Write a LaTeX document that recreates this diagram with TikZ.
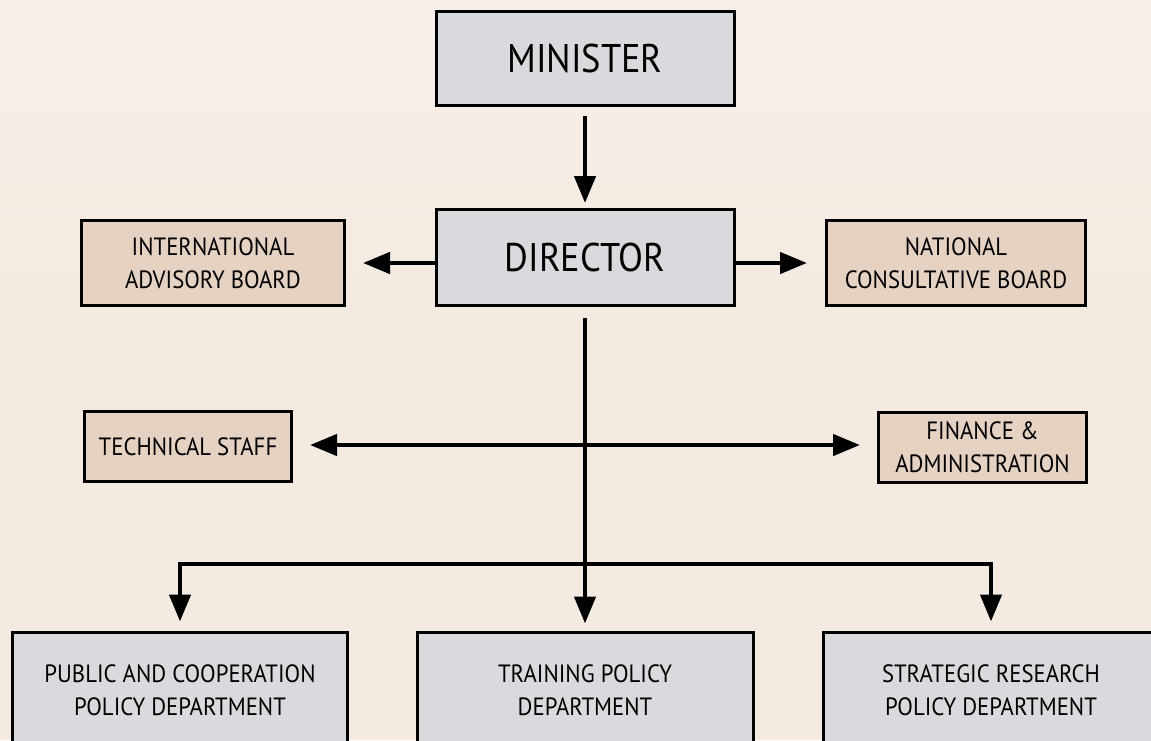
\documentclass[tikz,border=0pt]{standalone}
\usepackage{fontspec}
\setmainfont{PT Sans}[FakeStretch=0.91]
\usetikzlibrary{arrows.meta}
\definecolor{bg}{HTML}{F3EBE1}
\definecolor{bgpink}{HTML}{F8EFEA}
\definecolor{boxgrey}{HTML}{D9DADD}
\definecolor{boxbeige}{HTML}{E6D2C2}
\tikzset{
  gbox/.style={draw=black, line width=3pt, fill=boxgrey, align=center, inner sep=0pt},
  bbox/.style={draw=black, line width=3pt, fill=boxbeige, align=center, inner sep=0pt},
  bigtext/.style={font=\fontsize{40}{44}\selectfont},
  smalltext/.style={font=\fontsize{25}{33}\selectfont},
  conn/.style={line width=4.5pt, -{Triangle[width=21pt,length=27pt]}},
  conntwo/.style={line width=4.5pt, {Triangle[width=21pt,length=27pt]}-{Triangle[width=21pt,length=27pt]}},
}
\begin{document}
\begin{tikzpicture}[x=1pt,y=-1pt]
\useasboundingbox (0,0) rectangle (1151,740);
\fill[bg] (0,0) rectangle (1151,740);
\shade[top color=bgpink, bottom color=bg] (0,0) rectangle (1151,300);

\node[gbox, bigtext, minimum width=298pt, minimum height=94pt] (min) at (585,58.5) {MINISTER};
\node[gbox, bigtext, minimum width=298pt, minimum height=96pt] (dir) at (585,257.5) {DIRECTOR};
\node[bbox, smalltext, minimum width=263pt, minimum height=85pt] (int) at (213,263) {INTERNATIONAL\\ADVISORY BOARD};
\node[bbox, smalltext, minimum width=259pt, minimum height=85pt] (nat) at (956,263) {NATIONAL\\CONSULTATIVE BOARD};
\node[bbox, smalltext, minimum width=207pt, minimum height=70pt] (tech) at (188,446.5) {TECHNICAL STAFF};
\node[bbox, smalltext, minimum width=208pt, minimum height=70pt] (fin) at (982.5,447.5) {FINANCE \&\\ADMINISTRATION};
\node[gbox, smalltext, minimum width=335pt, minimum height=116pt] (pub) at (180,690) {PUBLIC AND COOPERATION\\POLICY DEPARTMENT};
\node[gbox, smalltext, minimum width=336pt, minimum height=116pt] (tra) at (585,690) {TRAINING POLICY\\DEPARTMENT};
\node[gbox, smalltext, minimum width=335pt, minimum height=116pt] (str) at (991,690) {STRATEGIC RESEARCH\\POLICY DEPARTMENT};

\coordinate (hub) at (585,445);
\coordinate (br) at (585,564);

\draw[conn] ([yshift=-9pt]min.south) -- ([yshift=5pt]dir.north);
\draw[conn] (dir.east |- nat.west) -- ([xshift=-18pt]nat.west);
\draw[conn] (dir.west |- int.east) -- ([xshift=17pt]int.east);
\draw[conn] ([yshift=-11pt]dir.south) -- ([yshift=7pt]tra.north);
\draw[conntwo] ([xshift=17pt]tech.east |- hub) -- ([xshift=-17pt]fin.west |- hub);
\draw[conn] (br) -| ([yshift=9pt]pub.north);
\draw[conn] (br) -| ([yshift=9pt]str.north);
\end{tikzpicture}
\end{document}
